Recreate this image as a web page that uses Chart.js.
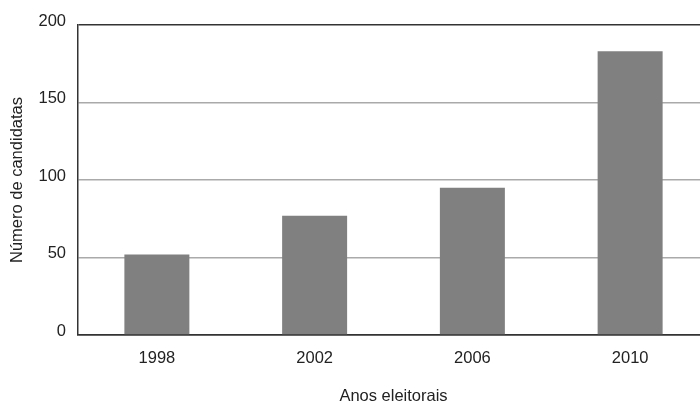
<!DOCTYPE html>
<html>
<head>
<meta charset="utf-8">
<script src="https://cdn.jsdelivr.net/npm/chart.js@4"></script>
<style>
  html, body { margin: 0; padding: 0; background: #fff; overflow: hidden; }
  #wrap { width: 709px; height: 404px; }
</style>
</head>
<body>
<div id="wrap"><canvas id="chart" width="709" height="404"></canvas></div>
<script>
const anos = ["1998", "2002", "2006", "2010"];
const candidatas = [52, 77, 95, 183];
const yTicks = [0, 50, 100, 150, 200];

const fontFamily = "'Liberation Sans', Arial, sans-serif";
const textColor = "#222";

const ctx = document.getElementById("chart");
new Chart(ctx, {
  type: "bar",
  data: {
    labels: anos,
    datasets: [
      {
        label: "Número de candidatas",
        data: candidatas,
        backgroundColor: "#808080",
        borderWidth: 0,
        barPercentage: 0.412,
        categoryPercentage: 1,
      },
    ],
  },
  options: {
    responsive: false,
    animation: false,
    devicePixelRatio: 1,
    layout: { padding: { top: 25, left: 0, right: 0, bottom: 0 } },
    plugins: {
      legend: { display: false },
      tooltip: { enabled: false },
    },
    scales: {
      x: {
        grid: { display: false, drawTicks: false },
        border: { display: true, color: "#333", width: 1.5 },
        ticks: {
          color: textColor,
          font: { family: fontFamily, size: 16.5 },
          padding: 14,
        },
        title: {
          display: true,
          text: "Anos eleitorais",
          color: textColor,
          font: { family: fontFamily, size: 16.5, lineHeight: 1 },
          padding: { top: 0, bottom: -1 },
        },
        afterFit: (scale) => {
          scale.height = 69;
        },
      },
      y: {
        min: 0,
        max: 200,
        afterBuildTicks: (scale) => {
          scale.ticks = yTicks.map((v) => ({ value: v }));
        },
        grid: {
          drawTicks: false,
          lineWidth: 1.5,
          color: (c) =>
            c.tick && (c.tick.value === 200 || c.tick.value === 0) ? "#333" : "#aaa",
        },
        border: { display: true, color: "#333", width: 1.5 },
        ticks: {
          color: textColor,
          font: { family: fontFamily, size: 16.5 },
          padding: 12,
          labelOffset: -4,
        },
        title: {
          display: true,
          text: "Número de candidatas",
          color: textColor,
          font: { family: fontFamily, size: 16.5 },
          padding: { top: 8, bottom: 0 },
        },
        afterFit: (scale) => {
          scale.width = 78;
        },
      },
    },
  },
});
</script>
</body>
</html>
